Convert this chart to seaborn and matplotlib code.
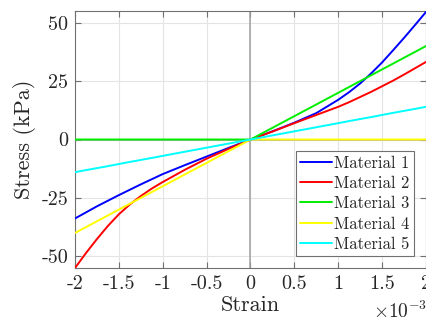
import matplotlib
matplotlib.use('Agg')
import matplotlib.pyplot as plt
import pandas as pd
import seaborn as sns

# Data (strain in units of 1e-3, stress in kPa)
strain = [-2.0, -1.875, -1.75, -1.625, -1.5, -1.375, -1.25, -1.125, -1.0,
          -0.75, -0.5, -0.25, 0.0, 0.25, 0.5, 0.75,
          1.0, 1.125, 1.25, 1.375, 1.5, 1.625, 1.75, 1.875, 2.0]
material_1 = [-33.8, -31.2, -28.6, -26.2, -23.8, -21.5, -19.2, -17.0, -14.8,
              -11.0, -7.3, -3.6, 0.0, 3.5, 7.2, 11.3,
              17.0, 20.3, 24.0, 28.3, 33.0, 38.2, 43.5, 49.0, 54.6]
material_2 = [-55.0, -48.6, -42.6, -37.0, -32.0, -27.8, -24.2, -21.0, -18.2,
              -13.0, -8.2, -4.0, 0.0, 3.4, 7.0, 10.5,
              14.0, 16.0, 18.2, 20.4, 22.8, 25.2, 27.8, 30.5, 33.2]
material_3 = [0.0, 0.0, 0.0, 0.0, 0.0, 0.0, 0.0, 0.0, 0.0,
              0.0, 0.0, 0.0, 0.0, 5.0, 10.0, 15.0,
              20.0, 22.5, 25.0, 27.5, 30.0, 32.5, 35.0, 37.5, 40.0]
material_4 = [-40.0, -37.5, -35.0, -32.5, -30.0, -27.5, -25.0, -22.5, -20.0,
              -15.0, -10.0, -5.0, 0.0, 0.0, 0.0, 0.0,
              0.0, 0.0, 0.0, 0.0, 0.0, 0.0, 0.0, 0.0, 0.0]
material_5 = [-14.0, -13.1, -12.25, -11.4, -10.5, -9.6, -8.75, -7.9, -7.0,
              -5.25, -3.5, -1.75, 0.0, 1.75, 3.5, 5.25,
              7.0, 7.9, 8.75, 9.6, 10.5, 11.4, 12.25, 13.1, 14.0]

labels = ['Material 1', 'Material 2', 'Material 3', 'Material 4', 'Material 5']
colors = ['#0000ff', '#ff0000', '#00ee00', '#ffff00', '#00ffff']

x_ticks = [-2, -1.5, -1, -0.5, 0, 0.5, 1, 1.5, 2]
x_ticklabels = ['-2', '-1.5', '-1', '-0.5', '0', '0.5', '1', '1.5', '2']
y_ticks = [-50, -25, 0, 25, 50]
y_ticklabels = ['-50', '-25', '0', '25', '50']

# Long-form table for seaborn
series = [material_1, material_2, material_3, material_4, material_5]
frames = []
for name, vals in zip(labels, series):
    frames.append(pd.DataFrame({'strain': strain, 'stress': vals, 'material': name}))
df = pd.concat(frames, ignore_index=True)

sns.set_style('ticks')
plt.rcParams['font.family'] = ['cmr10', 'DejaVu Serif']
plt.rcParams['mathtext.fontset'] = 'cm'
plt.rcParams['axes.unicode_minus'] = False
plt.rcParams['axes.formatter.use_mathtext'] = True

fig = plt.figure(figsize=(4.27, 3.25), dpi=100)
ax = fig.add_axes([75 / 427, 1 - 268 / 325, 351 / 427, 257 / 325])

ax.axvline(0, color='#a0a0a0', lw=1.1, zorder=1)
ax.axhline(0, color='#a0a0a0', lw=1.1, zorder=1)

sns.lineplot(data=df, x='strain', y='stress', hue='material', palette=colors,
             sort=False, lw=1.4, ax=ax, legend=False, zorder=3)

ax.set_xlim(-2, 2)
ax.set_ylim(-55, 55)
ax.set_xticks(x_ticks)
ax.set_xticklabels(x_ticklabels)
ax.set_yticks(y_ticks)
ax.set_yticklabels(y_ticklabels)
ax.grid(True, color='#e4e4e4', lw=0.8, zorder=0)
ax.set_axisbelow(True)

ax.tick_params(direction='in', length=4, width=0.8, color='#707070',
               top=True, right=True, labelsize=14.5, pad=5)
for s in ax.spines.values():
    s.set_color('#707070')
    s.set_linewidth(0.8)

ax.set_xlabel('Strain', fontsize=16, labelpad=2)
ax.set_ylabel('Stress (kPa)', fontsize=16, labelpad=4)

fig.text(427 / 427, 1 - 318 / 325, r'$\times10^{-3}$', ha='right', va='baseline',
         fontsize=14)

handles = [plt.Line2D([], [], color=c, lw=1.4) for c in colors]
leg = ax.legend(handles, labels, loc='lower right',
                bbox_to_anchor=((414 - 75) / 351, (268 - 256) / 257),
                borderaxespad=0, fontsize=12, fancybox=False, framealpha=1,
                edgecolor='#707070', handlelength=1.9, handletextpad=0.15,
                labelspacing=0.3, borderpad=0.25)
leg.get_frame().set_linewidth(0.8)

fig.savefig('out.png', dpi=100)
